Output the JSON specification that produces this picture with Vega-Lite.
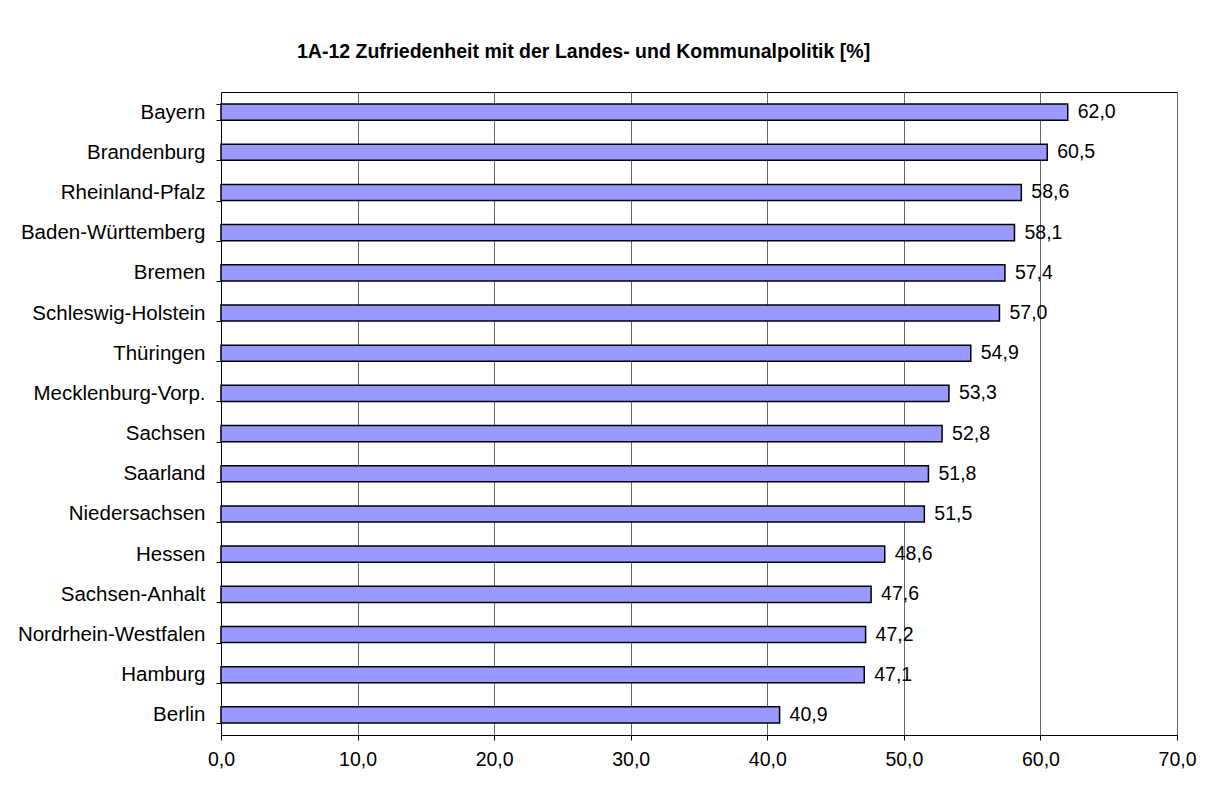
{
  "$schema": "https://vega.github.io/schema/vega-lite/v6.json",
  "width": 956,
  "height": 643,
  "autosize": {"type": "none"},
  "padding": {"left": 221, "top": 92, "right": 32, "bottom": 60},
  "background": "white",
  "config": {
    "locale": {"number": {"decimal": ",", "thousands": ".", "grouping": [3], "currency": ["", " €"]}},
    "font": "Liberation Sans",
    "view": {"stroke": "black", "strokeWidth": 1}
  },
  "title": {
    "text": "1A-12 Zufriedenheit mit der Landes- und Kommunalpolitik [%]",
    "anchor": "start",
    "frame": "group",
    "dx": 76,
    "offset": 5,
    "baseline": "alphabetic",
    "font": "Liberation Sans",
    "fontSize": 19.5,
    "fontWeight": "bold",
    "color": "black"
  },
  "data": {
    "values": [
      {"land": "Bayern", "wert": 62.0},
      {"land": "Brandenburg", "wert": 60.5},
      {"land": "Rheinland-Pfalz", "wert": 58.6},
      {"land": "Baden-Württemberg", "wert": 58.1},
      {"land": "Bremen", "wert": 57.4},
      {"land": "Schleswig-Holstein", "wert": 57.0},
      {"land": "Thüringen", "wert": 54.9},
      {"land": "Mecklenburg-Vorp.", "wert": 53.3},
      {"land": "Sachsen", "wert": 52.8},
      {"land": "Saarland", "wert": 51.8},
      {"land": "Niedersachsen", "wert": 51.5},
      {"land": "Hessen", "wert": 48.6},
      {"land": "Sachsen-Anhalt", "wert": 47.6},
      {"land": "Nordrhein-Westfalen", "wert": 47.2},
      {"land": "Hamburg", "wert": 47.1},
      {"land": "Berlin", "wert": 40.9}
    ]
  },
  "encoding": {
    "y": {
      "field": "land",
      "type": "nominal",
      "sort": null,
      "scale": {"paddingInner": 0.6, "paddingOuter": 0.3},
      "axis": {
        "title": null,
        "tickBand": "extent",
        "tickSize": 5,
        "tickColor": "black",
        "domainColor": "black",
        "labelPadding": 11,
        "labelLimit": 0,
        "labelFontSize": 20.5,
        "labelColor": "black",
        "labelFont": "Liberation Sans"
      }
    },
    "x": {
      "field": "wert",
      "type": "quantitative",
      "scale": {"domain": [0, 70], "nice": false},
      "axis": {
        "title": null,
        "values": [0, 10, 20, 30, 40, 50, 60, 70],
        "format": ".1f",
        "labelFlush": false,
        "grid": true,
        "gridColor": "#666666",
        "gridWidth": 1,
        "tickSize": 5,
        "tickColor": "black",
        "domainColor": "black",
        "labelPadding": 10,
        "labelFontSize": 19.5,
        "labelColor": "black",
        "labelFont": "Liberation Sans"
      }
    }
  },
  "layer": [
    {
      "mark": {"type": "bar", "color": "#9999FF", "stroke": "black", "strokeWidth": 1.5}
    },
    {
      "mark": {"type": "text", "align": "left", "baseline": "middle", "dx": 10, "fontSize": 19.5, "color": "black", "font": "Liberation Sans"},
      "encoding": {
        "text": {"field": "wert", "type": "quantitative", "format": ".1f"}
      }
    }
  ]
}
